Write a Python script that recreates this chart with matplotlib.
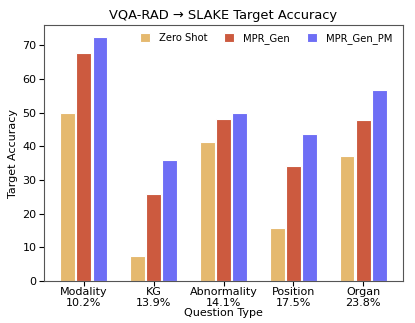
import matplotlib
matplotlib.use("Agg")
import matplotlib.pyplot as plt
import numpy as np

categories = ["Modality\n10.2%", "KG\n13.9%", "Abnormality\n14.1%", "Position\n17.5%", "Organ\n23.8%"]
zero_shot = [50.0, 7.4, 41.3, 15.7, 37.0]
mpr_gen = [67.6, 25.7, 48.0, 34.0, 47.8]
mpr_gen_pm = [72.3, 35.8, 50.0, 43.6, 56.8]
series_names = ["Zero Shot", "MPR_Gen", "MPR_Gen_PM"]
colors = ["#e5b96f", "#cc5a3f", "#6e6ef5"]

fig = plt.figure(figsize=(4.15, 3.23), dpi=100)
ax = fig.add_axes([44/415, 1-281/323, 359/415, 256/323])
x = np.arange(len(categories))
w = 0.21
for i, (vals, name, c) in enumerate(zip([zero_shot, mpr_gen, mpr_gen_pm], series_names, colors)):
    ax.bar(x + (i-1)*0.23, vals, w, color=c, edgecolor="white", linewidth=0.8, label=name)

ax.set_xlim(-0.57, 4.57)
ax.set_ylim(0, 76)
ax.set_yticks([0, 10, 20, 30, 40, 50, 60, 70])
ax.set_xticks(x)
ax.set_xticklabels(categories, fontsize=8, linespacing=1.15)
ax.tick_params(axis="y", labelsize=8, pad=2)
ax.tick_params(axis="x", pad=1)
ax.set_xlabel("Question Type", fontsize=8, labelpad=0)
ax.set_ylabel("Target Accuracy", fontsize=8, labelpad=3)
ax.set_title("VQA-RAD → SLAKE Target Accuracy", fontsize=9.4, pad=4)
for s in ax.spines.values():
    s.set_color("#555555")
ax.legend(loc="upper right", ncol=3, frameon=False, fontsize=7.2, handlelength=1.0, handleheight=1.0,
          columnspacing=1.7, handletextpad=0.9, bbox_to_anchor=(0.995, 1.005))
fig.savefig("out.png", dpi=100)
